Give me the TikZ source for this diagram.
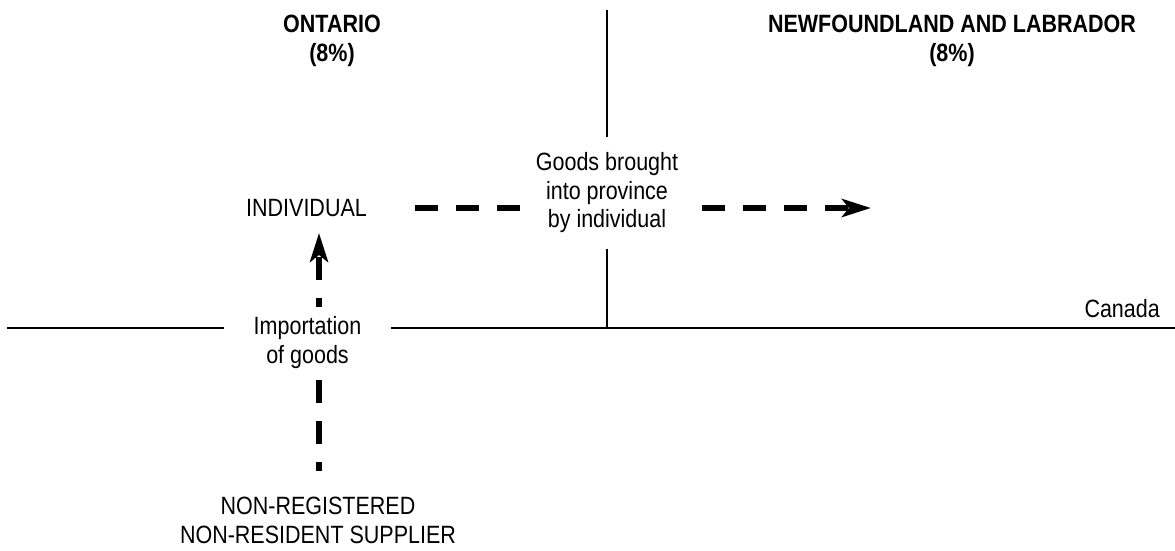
\documentclass[tikz,border=0pt]{standalone}
\usepackage{fontspec}
\setmainfont{Liberation Sans}[FakeStretch=0.86]
\usetikzlibrary{arrows.meta,backgrounds}
\begin{document}
\begin{tikzpicture}[x=1pt,y=-1pt,
  lbl/.style={inner sep=0pt, align=center, font=\fontsize{25}{28.5}\selectfont},
  head/.style={inner sep=0pt, align=center, font=\fontsize{25}{29}\selectfont\bfseries},
  gap/.style={lbl, fill=white},
  border/.style={line width=2.4pt},
  flow/.style={line width=5.5pt, dash pattern=on 23pt off 18pt,
    -{Stealth[length=29pt,width=18pt,inset=7pt]}}]
\useasboundingbox (0,0) rectangle (1175,550);

% province headings
\node[head] (on) at (332,41) {ONTARIO\\(8\%)};
\node[head] (nl) at (952,41) {NEWFOUNDLAND AND LABRADOR\\(8\%)};

% parties and labels
\node[lbl] (ind) at (306.5,208) {INDIVIDUAL};
\node[lbl] (nr) at (318,520.5) {NON-REGISTERED\\NON-RESIDENT SUPPLIER};
\node[lbl, anchor=base east] (ca) at (1160,317) {Canada};
\node[gap, inner xsep=16pt, inner ysep=16pt] (gb) at (607,193)
  {Goods brought\\into province\\by individual};
\node[gap, inner xsep=30pt, inner ysep=10pt] (im) at (307.5,342.5)
  {Importation\\of goods};

% free ends of the borders and of the transfer arrow
\coordinate (top) at (607,10);
\coordinate (join) at (607,328);
\coordinate (west) at (7,328);
\coordinate (east) at (1175,328);
\coordinate (dest) at (871,208);

\begin{pgfonlayer}{background}
  % provincial and national borders
  \draw[border] (top) -- (join);
  \draw[border] (west) -- (east);
  % flows of goods
  \draw[flow] ([xshift=48pt]ind.east) -- (dest);
  \draw[flow, dash phase=14pt] ([xshift=1pt,yshift=26pt]nr.north)
    -- ([xshift=12.5pt,yshift=-16pt]ind.south);
\end{pgfonlayer}
\end{tikzpicture}
\end{document}
